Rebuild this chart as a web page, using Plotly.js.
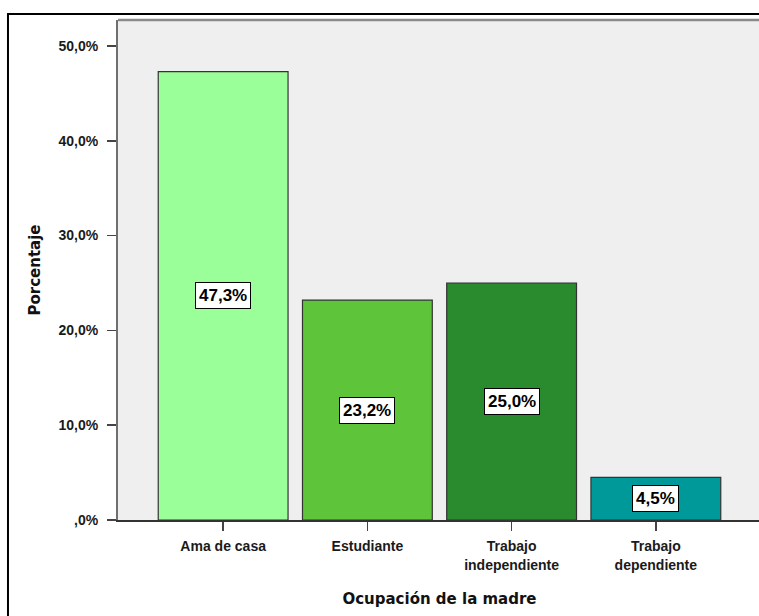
<!DOCTYPE html>
<html>
<head>
<meta charset="utf-8">
<script src="https://cdn.plot.ly/plotly-3.0.1.min.js"></script>
<style>
html, body { margin: 0; padding: 0; background: #ffffff; overflow: hidden; width: 759px; height: 616px; }
#chart { width: 772px; height: 616px; }
</style>
</head>
<body>
<div id="chart"></div>
<script>
var categories = ["Ama de casa", "Estudiante", "Trabajo<br>independiente", "Trabajo<br>dependiente"];
var values = [47.3, 23.2, 25.0, 4.5];
var valueLabels = ["47,3%", "23,2%", "25,0%", "4,5%"];
var barColors = ["#9bff99", "#5ec43a", "#2a8a2e", "#009999"];
var yTickVals = [0, 10, 20, 30, 40, 50];
var yTickText = [",0%", "10,0%", "20,0%", "30,0%", "40,0%", "50,0%"];

var tickFont = { family: "Liberation Sans, Arial, sans-serif", size: 14, color: "#1a1a1a", weight: "bold" };
var titleFont = { family: "DejaVu Sans, Verdana, sans-serif", size: 15, color: "#111111", weight: "bold" };

var trace = {
  type: "bar",
  x: categories,
  y: values,
  width: 0.9,
  marker: { color: barColors, line: { color: "#333333", width: 1.2 } },
  hoverinfo: "none"
};

var annotations = categories.map(function (c, i) {
  return {
    x: c, y: values[i] / 2, xref: "x", yref: "y",
    text: valueLabels[i], showarrow: false,
    font: { family: "Liberation Sans, Arial, sans-serif", size: 17, color: "#000000", weight: "bold" },
    bgcolor: "#ffffff", bordercolor: "#000000", borderwidth: 1, borderpad: 3
  };
});

var layout = {
  width: 772, height: 616,
  margin: { l: 118, r: 11, t: 20, b: 96 },
  paper_bgcolor: "#ffffff",
  plot_bgcolor: "#efefef",
  showlegend: false,
  bargap: 0.1,
  xaxis: {
    type: "category",
    range: [-0.729, 3.729],
    showgrid: false, zeroline: false,
    showline: true, linecolor: "#333333", linewidth: 1.5,
    ticks: "outside", ticklen: 9, tickwidth: 1.5, tickcolor: "#444444",
    ticklabelstandoff: 4,
    tickfont: tickFont,
    title: { text: "Ocupación de la madre", font: titleFont, standoff: 22 },
    fixedrange: true
  },
  yaxis: {
    range: [0, 52.74],
    tickvals: yTickVals, ticktext: yTickText,
    showgrid: false, zeroline: false,
    showline: true, linecolor: "#6f6f6f", linewidth: 2,
    ticks: "outside", ticklen: 9, tickwidth: 1.5, tickcolor: "#444444",
    ticklabelstandoff: 6,
    tickfont: tickFont,
    title: { text: "Porcentaje", font: titleFont, standoff: 14 },
    fixedrange: true
  },
  annotations: annotations,
  shapes: [
    { type: "line", xref: "paper", yref: "paper", x0: 0, x1: 1, y0: 1, y1: 1,
      line: { color: "#8a8a8a", width: 2.5 } },
    { type: "rect", xref: "paper", yref: "paper", x0: -0.1711, x1: 1.2, y0: -0.4, y1: 1.012,
      line: { color: "#000000", width: 2 }, fillcolor: "rgba(0,0,0,0)" }
  ]
};

Plotly.newPlot("chart", [trace], layout, { displayModeBar: false, staticPlot: true });
</script>
</body>
</html>
